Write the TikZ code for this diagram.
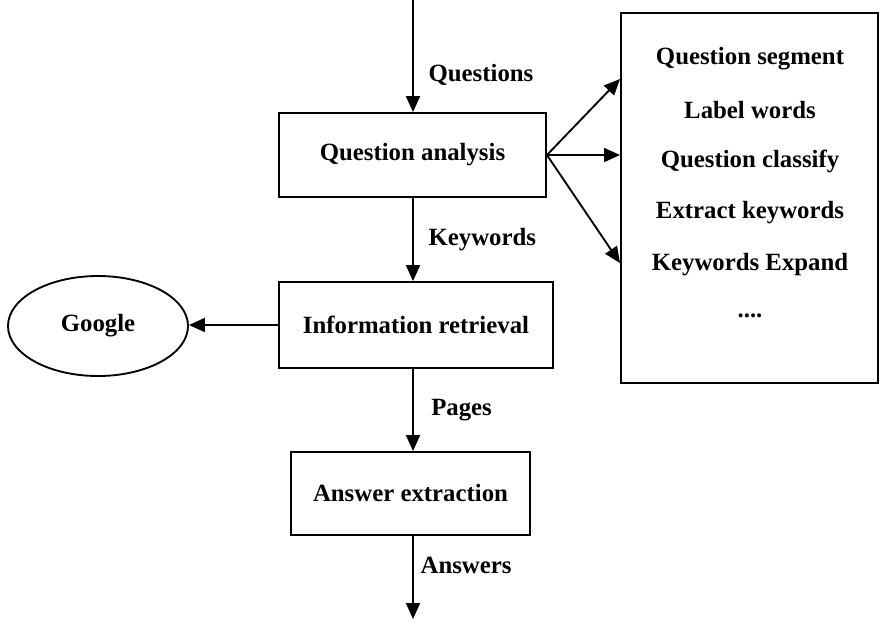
\documentclass[tikz,border=0pt]{standalone}
\usepackage{fontspec}
\setmainfont{Liberation Serif}
\usetikzlibrary{arrows.meta,shapes.geometric}
\begin{document}
\begin{tikzpicture}[x=0.75pt,y=-0.75pt,
  every node/.style={font=\bfseries\fontsize{18.6pt}{22pt}\selectfont},
  stage/.style={draw,line width=1.4pt,inner sep=0pt},
  flow/.style={line width=1.4pt,-{Triangle[length=12pt,width=10.5pt]}},
  lbl/.style={anchor=west,inner sep=0pt},
  item/.style={inner sep=0pt}]
\useasboundingbox (0,0) rectangle (881,622);

% main pipeline boxes
\node[stage,minimum width=200.25pt,minimum height=63pt] (qa) at (412.5,155) {Question analysis};
\node[stage,minimum width=205.5pt,minimum height=64.5pt] (ir) at (416,325) {Information retrieval};
\node[stage,minimum width=179.25pt,minimum height=62.25pt] (ae) at (410.5,493.5) {Answer extraction};

% search engine
\node[draw,ellipse,line width=1.4pt,minimum width=135pt,minimum height=75pt,inner sep=0pt] (g) at (98,326) {Google};

% analysis steps
\node[stage,minimum width=192.75pt,minimum height=277.5pt] (rb) at (749.5,198) {};
\node[item] (s1) at (750,59) {Question segment};
\node[item] (s2) at (750,110) {Label words};
\node[item] (s3) at (750,161) {Question classify};
\node[item] (s4) at (750,213) {Extract keywords};
\node[item] (s5) at (750,265) {Keywords Expand};
\node[item] (s6) at (750,316) {....};

% free ends of the flow
\coordinate (in) at (413,0);
\coordinate (out) at (413,619);
\coordinate (t1) at (620,79);
\coordinate (t2) at (620,155);
\coordinate (t3) at (620,263);

\draw[flow] (in) -- (in |- qa.north) node[lbl,pos=0.67,xshift=11pt] {Questions};
\draw[flow] (qa.south -| in) -- (ir.north -| in) node[lbl,midway,xshift=11pt] {Keywords};
\draw[flow] (ir.south -| in) -- (ae.north -| in) node[lbl,midway,xshift=13pt] {Pages};
\draw[flow] (ae.south -| in) -- (out) node[lbl,pos=0.35,xshift=5pt] {Answers};
\draw[flow] (ir.west) -- (g.east |- ir.west);
\draw[flow] (qa.east) -- (t1);
\draw[flow] (qa.east) -- (t2);
\draw[flow] (qa.east) -- (t3);
\end{tikzpicture}
\end{document}
